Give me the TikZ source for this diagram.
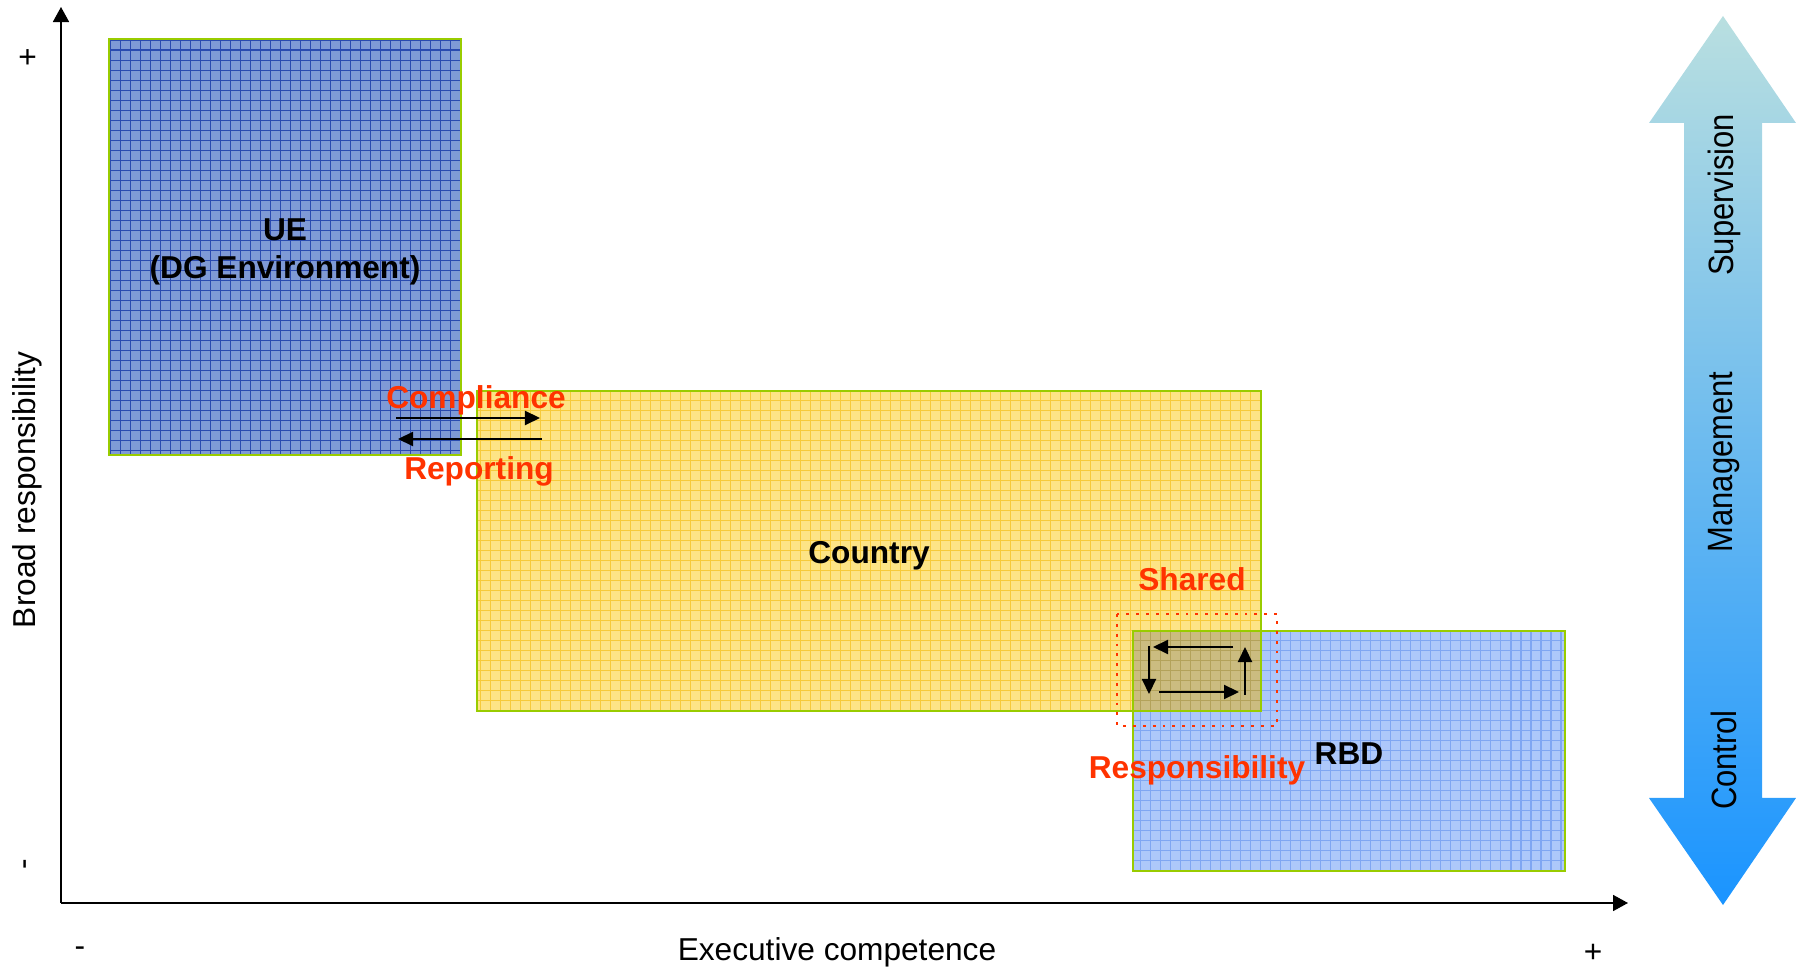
\documentclass[tikz,border=0pt]{standalone}
\usepackage{fontspec}
\setmainfont{Liberation Sans}
\newfontfamily\narrowsans[FakeStretch=0.88]{Liberation Sans}
\usetikzlibrary{arrows.meta}

\definecolor{uefill}{HTML}{7F9AD6}
\definecolor{uegrid}{HTML}{2A4AB0}
\definecolor{countryfill}{HTML}{FDE486}
\definecolor{countrygrid}{HTML}{F6CA3A}
\definecolor{rbdfill}{HTML}{ADC8FA}
\definecolor{rbdgrid}{HTML}{7FA6F2}
\definecolor{sharedfill}{HTML}{CBBC80}
\definecolor{sharedgrid}{HTML}{B3A25A}
\definecolor{boxline}{HTML}{99CC00}
\definecolor{alert}{HTML}{FF3300}
\definecolor{scaletop}{HTML}{B9DFE0}
\definecolor{scalemid}{HTML}{8CBEEF}
\definecolor{scalebottom}{HTML}{1A94FF}

\tikzset{
  axis/.style={
    line width=0.5pt,
    -{Triangle[length=0.15cm, width=0.16cm]},
  },
  flow/.style={
    line width=0.6pt,
    -{Triangle[length=0.15cm, width=0.14cm]},
  },
  region/.style={
    draw=boxline,
    line width=0.8pt,
  },
  region grid/.style={
    step=0.1cm,
    line width=0.3pt,
  },
  box label/.style={
    font=\fontsize{9}{10.8}\selectfont\bfseries,
    align=center,
  },
  alert label/.style={
    box label,
    text=alert,
  },
  axis label/.style={
    font=\fontsize{9}{10.8}\selectfont,
  },
  scale label/.style={
    font=\fontsize{10}{12}\selectfont\narrowsans,
    rotate=90,
  },
}

\begin{document}
\begin{tikzpicture}[x=0.01cm, y=-0.01cm]
  \useasboundingbox (0,0) rectangle (1796,967);

  \foreach \fillc/\gridc/\x/\y/\X/\Y in {
    countryfill/countrygrid/477/391/1261/711,
    rbdfill/rbdgrid/1133/631/1565/871,
    sharedfill/sharedgrid/1133/631/1261/711,
    uefill/uegrid/109/39/461/455} {
    \fill[\fillc] (\x,\y) rectangle (\X,\Y);
    \draw[\gridc, region grid] (\x,\y) grid (\X,\Y);
  }
  \foreach \x/\y/\X/\Y in {477/391/1261/711, 1133/631/1565/871, 109/39/461/455}
    \draw[region] (\x,\y) rectangle (\X,\Y);
  \draw[alert, dotted, line width=0.8pt] (1117,614) rectangle (1277,726);

  \foreach \n/\x/\y in {
    origin/61/903, ytip/61/7, xtip/1628/903,
    comp-a/396/418, comp-b/540/418, rep-a/542/439, rep-b/398/439,
    sh-1/1233/647, sh-2/1153/647, sh-3/1149/646, sh-4/1149/694,
    sh-5/1159/692, sh-6/1239/692, sh-7/1245/695, sh-8/1245/647}
    \coordinate (\n) at (\x,\y);

  \draw[axis] (origin) -- (ytip);
  \draw[axis] (origin) -- (xtip);
  \draw[flow] (comp-a) -- (comp-b);
  \draw[flow] (rep-a) -- (rep-b);
  \foreach \a/\b in {sh-1/sh-2, sh-3/sh-4, sh-5/sh-6, sh-7/sh-8}
    \draw[flow] (\a) -- (\b);

  \node[box label] (ue) at (285,252) {UE\\(DG Environment)};
  \node[box label] (country) at (869,556) {Country};
  \node[box label] (rbd) at (1349,754) {RBD};
  \node[alert label] (compliance) at (476,400) {Compliance};
  \node[alert label] (reporting) at (479,471) {Reporting};
  \node[alert label] (shared) at (1192,579) {Shared};
  \node[alert label] (responsibility) at (1197,770) {Responsibility};

  \node[axis label, rotate=90] (ylabel) at (27,490) {Broad responsibility};
  \node[axis label, rotate=90] (yplus) at (29,57) {+};
  \node[axis label, rotate=90] (yminus) at (29,864) {-};
  \node[axis label] (xlabel) at (837,952) {Executive competence};
  \node[axis label] (xminus) at (80,952) {-};
  \node[axis label] (xplus) at (1593,953) {+};

  \shade[top color=scaletop, middle color=scalemid, bottom color=scalebottom]
    (1723,16) -- (1796,123) -- (1762,123) -- (1762,798) -- (1796,798)
    -- (1723,905) -- (1649,798) -- (1684,798) -- (1684,123) -- (1649,123)
    -- cycle;
  \node[scale label] (supervision) at (1724,195) {Supervision};
  \node[scale label] (management) at (1724,462) {Management};
  \node[scale label] (control) at (1724,760) {Control};
\end{tikzpicture}
\end{document}
